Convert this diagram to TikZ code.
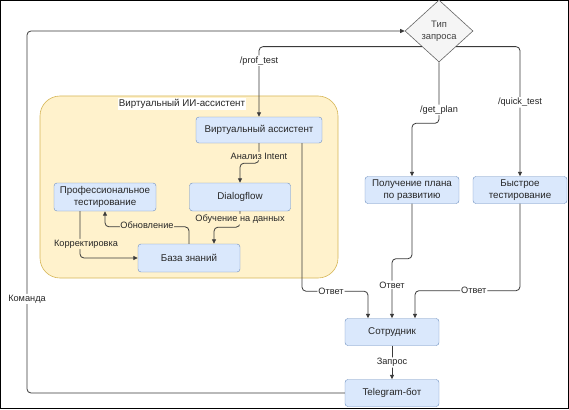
\documentclass[tikz,border=0pt]{standalone}
\usepackage{fontspec}
\setmainfont{Liberation Sans}
\usetikzlibrary{shapes.geometric,arrows.meta}
\definecolor{boxfill}{HTML}{DAE8FC}
\definecolor{boxline}{HTML}{6C8EBF}
\definecolor{grpfill}{HTML}{FFF2CC}
\definecolor{grpline}{HTML}{D6B656}
\definecolor{decfill}{HTML}{F5F5F5}
\definecolor{decline}{HTML}{666666}
\definecolor{wire}{HTML}{3A3A3A}
\tikzset{
    blk/.style={draw=boxline,fill=boxfill,rounded corners=3pt,align=center,
        inner sep=1pt,font=\fontsize{9.8}{11.5}\selectfont,text=black!85},
    wirearr/.style={draw=wire,line width=0.8pt,rounded corners=4pt,
        -{Triangle[length=4.5pt,width=4pt]}},
    lbl/.style={fill=white,inner sep=1pt,font=\fontsize{9.2}{10}\selectfont,text=black!85},
    lbly/.style={lbl,fill=grpfill}
}
\begin{document}
\begin{tikzpicture}[x=1pt,y=-1pt]
        % рамка
        \draw[black,line width=0.8pt] (0.4,0.4) rectangle (568.6,408.6);
        \useasboundingbox (0,0) rectangle (569,409);

        % группа
        \draw[grpline,fill=grpfill,line width=0.6pt,rounded corners=20pt] (40,96) rectangle (338,278);
        \node[lbl,font=\fontsize{9.8}{11}\selectfont] (grp) at (182,104) {Виртуальный ИИ-ассистент};

        % узлы
        \node[diamond,draw=decline,fill=decfill,line width=0.6pt,minimum width=68pt,minimum height=62pt,
            inner sep=0pt,align=center,font=\fontsize{9.4}{12.5}\selectfont,text=black!75] (tip) at (439,31) {Тип\\запроса};
        \node[blk,minimum width=126pt,minimum height=26pt] (va) at (259,130) {Виртуальный ассистент};
        \node[blk,minimum width=101pt,minimum height=28pt] (df) at (240,197) {Dialogflow};
        \node[blk,minimum width=102pt,minimum height=28pt] (pt) at (105,197) {Профессиональное\\тестирование};
        \node[blk,minimum width=102pt,minimum height=28pt] (kb) at (189,258) {База знаний};
        \node[blk,minimum width=94pt,minimum height=27pt] (plan) at (412,190) {Получение плана\\по развитию};
        \node[blk,minimum width=94pt,minimum height=27pt] (quick) at (520,190) {Быстрое\\тестирование};
        \node[blk,minimum width=94pt,minimum height=27pt] (emp) at (392,332) {Сотрудник};
        \node[blk,minimum width=94pt,minimum height=27pt] (bot) at (392,393) {Telegram-бот};
        \coordinate (loop) at (27,31);

        % связи
        \draw[wirearr] (bot.west) -| node[lbl,pos=0.63] {Команда} (loop) -- (tip.west);
        \draw[wirearr] (tip.south west) -| node[lbl,pos=0.6] {/prof\_test} (va.north);
        \draw[wirearr] (tip.south) -- node[lbl,pos=0.78] {/get\_plan} ++(0,61) -| (plan.north);
        \draw[wirearr] (tip.south east) -| node[lbl,pos=0.715] {/quick\_test} (quick.north);
        \draw[wirearr] (va.south) -- node[lbly,pos=0.65] {Анализ Intent} ++(0,20) -| (df.north);
        \draw[wirearr] (df.south) -- node[lbly,pos=0.5] {Обучение на данных} ++(0,16) -| ([xshift=25pt]kb.north);
        \draw[wirearr] (kb.north) -- ++(0,-17) -| node[lbly,pos=0.25,yshift=2pt] {Обновление} (pt.south);
        \draw[wirearr] ([xshift=-25pt]pt.south) |- node[lbly,pos=0.35,xshift=6pt] {Корректировка} (kb.west);
        \draw[wirearr] ([xshift=43pt]va.south) -- ++(0,148) -| node[lbl,pos=0.22] {Ответ} ([xshift=-24pt]emp.north);
        \draw[wirearr] (plan.south) -- ++(0,55) -| node[lbl,pos=0.72] {Ответ} (emp.north);
        \draw[wirearr] (quick.south) -- ++(0,87) -| node[lbl,pos=0.22] {Ответ} ([xshift=23pt]emp.north);
        \draw[wirearr] (emp) -- node[lbl] {Запрос} (bot);
\end{tikzpicture}
\end{document}
